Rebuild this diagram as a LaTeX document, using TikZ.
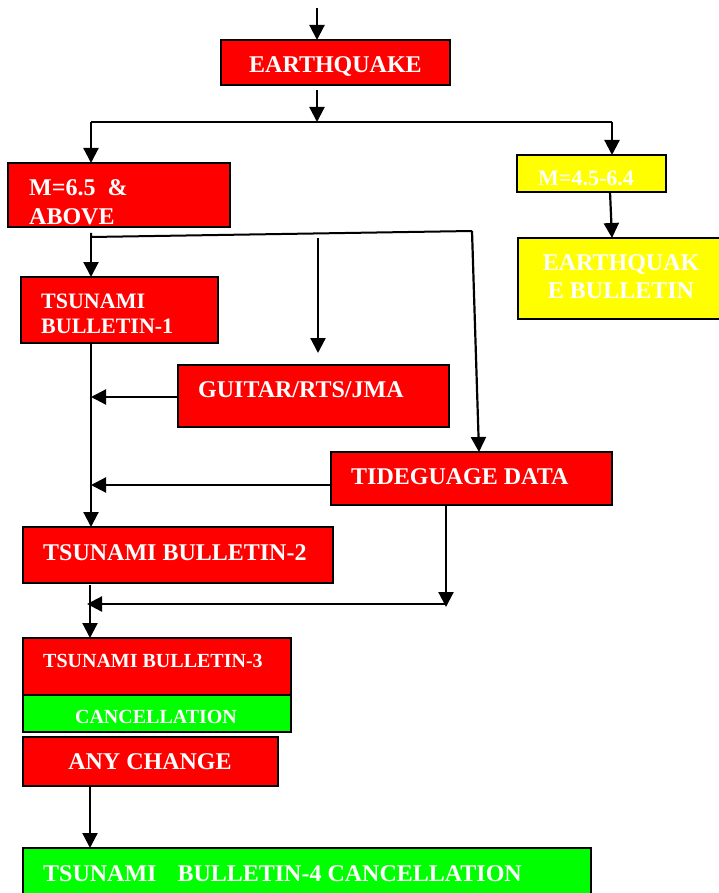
\documentclass[tikz,border=0pt]{standalone}
\usepackage{fontspec}
\setmainfont{Liberation Serif}
\usetikzlibrary{arrows.meta}
\definecolor{bred}{HTML}{FF0000}
\definecolor{byel}{HTML}{FFFF00}
\definecolor{bgrn}{HTML}{00FF00}
\begin{document}
\begin{tikzpicture}[x=1pt,y=-1pt,
  box/.style={draw=black, line width=1.6pt, inner sep=0pt, outer sep=0pt, anchor=north west},
  lbl/.style={text=white, font=\bfseries\fontsize{24}{24}\selectfont, inner sep=0pt, anchor=base west},
  lblc/.style={lbl, anchor=base},
  mid/.style={font=\bfseries\fontsize{22}{22}\selectfont},
  sml/.style={font=\bfseries\fontsize{20}{20}\selectfont},
  arr/.style={line width=2.2pt, -{Triangle[length=15pt,width=15pt]}},
  ln/.style={line width=2pt}]
\useasboundingbox (0,0) rectangle (719,893);
\clip (0,0) rectangle (719,893);
% boxes
\node[box, fill=bred, minimum width=229pt, minimum height=45pt] (eq) at (221,40) {};
\node[box, fill=bred, minimum width=222pt, minimum height=64pt] (m65) at (8,163) {};
\node[box, fill=byel, minimum width=149pt, minimum height=37pt] (m45) at (517,155) {};
\node[box, fill=byel, minimum width=210pt, minimum height=81pt] (eb) at (518,238) {};
\node[box, fill=bred, minimum width=197pt, minimum height=66pt] (tb1) at (21,277) {};
\node[box, fill=bred, minimum width=271pt, minimum height=62pt] (gu) at (178,365) {};
\node[box, fill=bred, minimum width=281pt, minimum height=53pt] (ti) at (331,452) {};
\node[box, fill=bred, minimum width=310pt, minimum height=56pt] (tb2) at (23,527) {};
\node[box, fill=bred, minimum width=268pt, minimum height=57pt] (tb3) at (23,638) {};
\node[box, fill=bgrn, minimum width=268pt, minimum height=37pt] (ca) at (23,695) {};
\node[box, fill=bred, minimum width=255pt, minimum height=49pt] (ac) at (23,737) {};
\node[box, fill=bgrn, minimum width=568pt, minimum height=60pt] (tb4) at (23,848) {};
% labels
\node[lbl] (eqt) at (249,73) {EARTHQUAKE};
\node[lbl] (m65a) at (29,196) {M=6.5\ \ \&};
\node[lbl] (m65b) at (29,225) {ABOVE};
\node[lbl, mid] (m45t) at (538,186) {M=4.5-6.4};
\node[lblc] (eba) at (621,270) {EARTHQUAK};
\node[lblc] (ebb) at (621,298) {E BULLETIN};
\node[lbl, mid] (tb1a) at (41,308) {TSUNAMI};
\node[lbl, mid] (tb1b) at (41,333) {BULLETIN-1};
\node[lbl] (gut) at (198,397) {GUITAR/RTS/JMA};
\node[lbl] (tit) at (351,484) {TIDEGUAGE DATA};
\node[lbl] (tb2t) at (43,560) {TSUNAMI BULLETIN-2};
\node[lbl, sml] (tb3t) at (43,667) {TSUNAMI BULLETIN-3};
\node[lblc, sml] (cat) at (156,723) {CANCELLATION};
\node[lblc] (act) at (150,769) {ANY CHANGE};
\node[lbl] (tb4t) at (43,881) {TSUNAMI\hspace{21pt}BULLETIN-4 CANCELLATION};
% connectors
\coordinate (top) at (317,8);
\draw[arr] (top) -- (top |- eq.north);
\coordinate (eqo) at (317,90);
\coordinate (br) at (317,122);
\draw[arr] (eqo) -- (br);
\coordinate (brl) at (91,122);
\coordinate (brr) at (612,122);
\draw[ln] (brl) -- (brr);
\draw[arr] (brl) -- (brl |- m65.north);
\draw[arr] (brr) -- (brr |- m45.north);
\coordinate (m45o) at (610,192);
\coordinate (ebi) at (612,238);
\draw[arr] (m45o) -- (ebi);
\coordinate (s1) at (91,233);
\coordinate (s2) at (91,237);
\coordinate (s3) at (472,231);
\coordinate (s4) at (479,452);
\draw[ln] (s1) -- (s2) -- (s3);
\draw[arr] (s3) -- (s4);
\draw[arr] (s2) -- (s2 |- tb1.north);
\coordinate (mid1) at (318,238);
\coordinate (mid2) at (318,353);
\draw[arr] (mid1) -- (mid2);
\coordinate (t1) at (91,343);
\draw[arr] (t1) -- (t1 |- tb2.north);
\coordinate (guw) at (178,397);
\draw[arr] (guw) -- (guw -| t1);
\coordinate (tiw) at (331,485);
\draw[arr] (tiw) -- (tiw -| t1);
\coordinate (tis) at (446,505);
\coordinate (tie) at (446,607);
\draw[arr] (tis) -- (tie);
\coordinate (ret) at (446,604);
\coordinate (rete) at (87,604);
\draw[arr] (ret) -- (rete);
\coordinate (t2) at (90,585);
\draw[arr] (t2) -- (t2 |- tb3.north);
\coordinate (t3) at (90,786);
\draw[arr] (t3) -- (t3 |- tb4.north);
\end{tikzpicture}
\end{document}
